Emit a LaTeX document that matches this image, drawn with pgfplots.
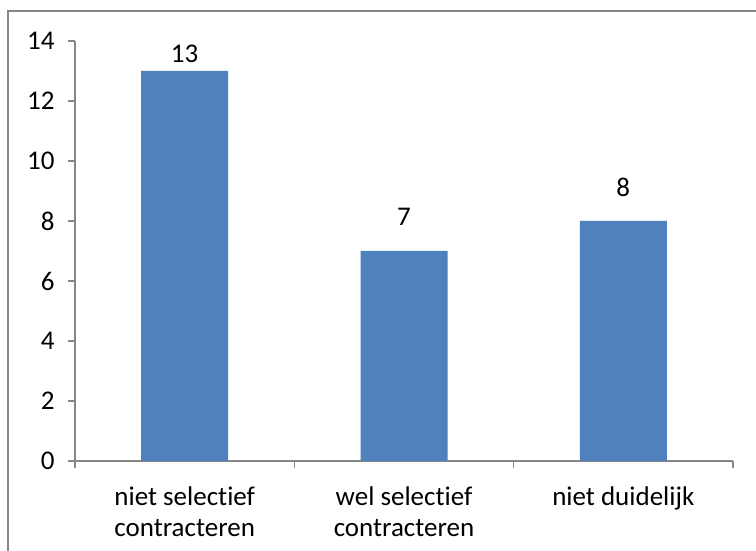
\documentclass[border=0pt]{standalone}
\usepackage{pgfplots}
\usepackage{pgfplotstable}
\pgfplotsset{compat=1.18}
\usepackage{fontspec}
\setmainfont{Carlito}[Ligatures={NoCommon}]
\definecolor{barblue}{HTML}{4F81BD}
\definecolor{axgray}{HTML}{868686}
\pgfplotstableread{
x y shift
0 13 5
1 7 22
2 8 21
}\bardata
\begin{document}
\begin{tikzpicture}[x=1pt,y=1pt]
\useasboundingbox (0,0) rectangle (756,551);
\draw[axgray, line width=1.2pt] (8,-50) -- (8,540) -- (800,540);
\begin{axis}[
  at={(75pt,90pt)}, anchor=south west,
  scale only axis, width=658pt, height=420pt,
  xmin=-0.5, xmax=2.5, ymin=0, ymax=14,
  ytick={0,2,...,14},
  xtick={0,1,2},
  xticklabels={{niet selectief\\contracteren},{wel selectief\\contracteren},{niet duidelijk}},
  xticklabel style={align=center, font=\fontsize{27}{31}\selectfont, yshift=-15pt},
  yticklabel style={font=\fontsize{27}{31}\selectfont, xshift=-10pt},
  /pgf/number format/assume math mode=true,
  axis x line*=bottom, axis y line*=left,
  axis line style={axgray, line width=1.2pt, -},
  tick style={axgray, line width=1.2pt},
  major tick length=7pt,
  tick align=outside,
  xtick style={draw=none},
  extra x ticks={-0.5,0.5,1.5,2.5},
  extra x tick labels={},
  extra x tick style={xtick style={draw=axgray, line width=1.2pt}, major tick length=7pt},
  ybar, bar width=87pt,
  nodes near coords,
  visualization depends on={\thisrow{shift} \as \labshift},
  every node near coord/.append style={font=\fontsize{27}{31}\selectfont, text=black, yshift=\labshift},
  clip=false,
]
\addplot[fill=barblue, draw=none] table[x=x, y=y] {\bardata};
\end{axis}
\end{tikzpicture}
\end{document}
